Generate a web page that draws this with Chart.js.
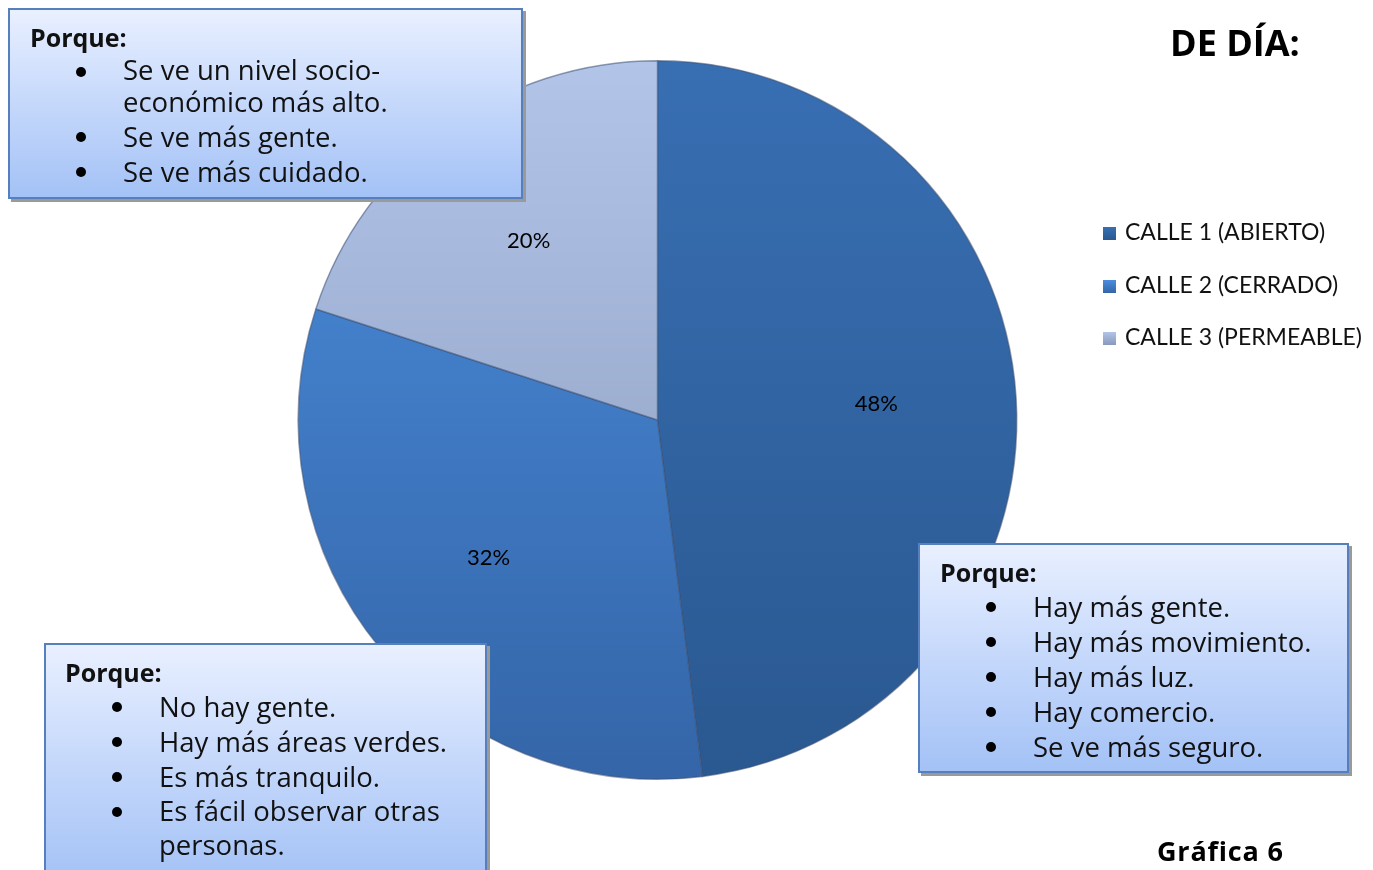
<!DOCTYPE html>
<html lang="es">
<head>
  <meta charset="UTF-8">
  <title>Gráfica 6 - De día</title>
  <script src="https://cdn.jsdelivr.net/npm/chart.js"></script>
  <style>
    body {
      margin: 0;
      padding: 0;
      background: #ffffff;
      width: 1373px;
      height: 870px;
      overflow: hidden;
      position: relative;
      font-family: 'Open Sans', sans-serif;
    }
    #pieChart {
      position: absolute;
      left: 0;
      top: 0;
    }
    /* text boxes */
    .box {
      position: absolute;
      box-sizing: border-box;
      border: 2px solid #5580bd;
      background: linear-gradient(to bottom, #e9f0ff 0%, #c5d8fb 50%, #a4c2f6 100%);
      box-shadow: 3px 3px 0 #9a9a9a;
      color: #111;
    }
    .box .head {
      position: absolute;
      font-weight: bold;
      font-size: 25px;
      line-height: 30px;
    }
    .box ul {
      position: absolute;
      margin: 0;
      padding: 0;
      list-style: none;
      font-size: 27.5px;
      line-height: 35px;
    }
    .box li {
      position: relative;
      padding-left: 47px;
    }
    .box li::before {
      content: '';
      position: absolute;
      left: 0;
      top: 13px;
      width: 10px;
      height: 10px;
      border-radius: 50%;
      background: #000;
    }
    #legend {
      position: absolute;
      left: 1103px;
      top: 217px;
      font-family: 'Lato', sans-serif;
      font-size: 23px;
      color: #111;
    }
    #legend div {
      height: 52.5px;
      display: flex;
      align-items: flex-start;
    }
    #legend span.sw {
      display: inline-block;
      width: 13px;
      height: 13px;
      margin-top: 10px;
      margin-right: 9px;
    }
    .title {
      position: absolute;
      font-family: 'Open Sans', sans-serif;
      font-weight: bold;
      color: #000;
    }
  </style>
</head>
<body>

<canvas id="pieChart" width="1373" height="870"></canvas>

<div class="title" style="left:1170px; top:18px; font-size:36px;">DE DÍA:</div>
<div class="title" style="left:1157px; top:832px; font-size:27px; letter-spacing:0.8px;">Gráfica 6</div>

<div id="legend"></div>

<div class="box" style="left:8px; top:8px; width:515px; height:191px;">
  <div class="head" style="left:20px; top:12px;">Porque:</div>
  <ul style="left:66px; top:44px; width:340px;">
    <li style="line-height:32px; margin-bottom:1px;">Se ve un nivel socio-económico más alto.</li>
    <li>Se ve más gente.</li>
    <li>Se ve más cuidado.</li>
  </ul>
</div>

<div class="box" style="left:918px; top:543px; width:431px; height:230px;">
  <div class="head" style="left:20px; top:12px;">Porque:</div>
  <ul style="left:66px; top:44px; width:360px;">
    <li>Hay más gente.</li>
    <li>Hay más movimiento.</li>
    <li>Hay más luz.</li>
    <li>Hay comercio.</li>
    <li>Se ve más seguro.</li>
  </ul>
</div>

<div class="box" style="left:44px; top:643px; width:443px; height:240px;">
  <div class="head" style="left:19px; top:12px;">Porque:</div>
  <ul style="left:66px; top:44px; width:370px;">
    <li>No hay gente.</li>
    <li>Hay más áreas verdes.</li>
    <li>Es más tranquilo.</li>
    <li style="line-height:34px;">Es fácil observar otras personas.</li>
  </ul>
</div>

<script>
  // === Data ===
  const calles = ['CALLE 1 (ABIERTO)', 'CALLE 2 (CERRADO)', 'CALLE 3 (PERMEABLE)'];
  const porcentajes = [48, 32, 20];
  const coloresArriba = ['#386fb3', '#4b8edd', '#b2c4e8'];
  const coloresAbajo = ['#2a5890', '#3465a8', '#8899ba'];

  // legend (html, built from the arrays)
  const legend = document.getElementById('legend');
  calles.forEach(function (c, i) {
    const row = document.createElement('div');
    const sw = document.createElement('span');
    sw.className = 'sw';
    sw.style.background = 'linear-gradient(to bottom, ' + coloresArriba[i] + ', ' + coloresAbajo[i] + ')';
    row.appendChild(sw);
    row.appendChild(document.createTextNode(c));
    legend.appendChild(row);
  });

  function sliceColor(context) {
    const chart = context.chart;
    const area = chart.chartArea;
    if (!area) return coloresArriba[context.dataIndex];
    const g = chart.ctx.createLinearGradient(0, area.top, 0, area.bottom);
    g.addColorStop(0, coloresArriba[context.dataIndex]);
    g.addColorStop(1, coloresAbajo[context.dataIndex]);
    return g;
  }

  // percent labels inside the slices
  const pctLabels = {
    id: 'pctLabels',
    afterDatasetsDraw(chart) {
      const ctx = chart.ctx;
      const meta = chart.getDatasetMeta(0);
      ctx.save();
      ctx.font = '22px Lato, sans-serif';
      ctx.fillStyle = '#000';
      ctx.textAlign = 'center';
      ctx.textBaseline = 'middle';
      meta.data.forEach(function (arc, i) {
        const mid = (arc.startAngle + arc.endAngle) / 2;
        const r = arc.outerRadius * 0.61;
        ctx.fillText(porcentajes[i] + '%', arc.x + Math.cos(mid) * r, arc.y + Math.sin(mid) * r - 2);
      });
      ctx.restore();
    }
  };

  const ctxPie = document.getElementById('pieChart').getContext('2d');
  const pieChart = new Chart(ctxPie, {
    type: 'pie',
    data: {
      labels: calles,
      datasets: [{
        data: porcentajes,
        backgroundColor: sliceColor,
        borderColor: 'rgba(60,80,115,0.55)',
        borderWidth: 1.5
      }]
    },
    options: {
      responsive: false,
      animation: false,
      layout: {
        padding: { left: 297, right: 355, top: 60, bottom: 90 }
      },
      plugins: {
        legend: { display: false },
        tooltip: { enabled: false }
      }
    },
    plugins: [pctLabels]
  });
</script>

</body>
</html>
